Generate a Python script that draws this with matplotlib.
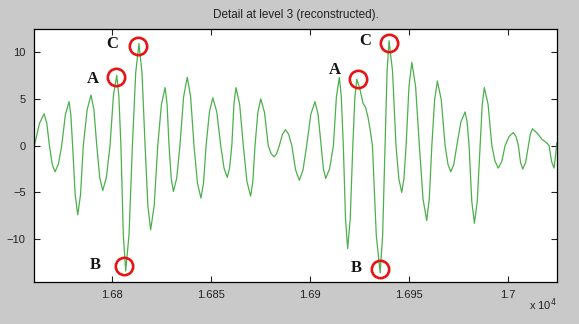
import matplotlib.pyplot as plt

# reconstructed detail signal, level 3
x = [16760.6, 16763.4, 16765.7, 16767.05, 16768.4, 16769.8, 16771.2, 16772.9,
     16774.6, 16776.45, 16778.3, 16779.2, 16780.1, 16781.4, 16782.7, 16784.1,
     16785.5, 16787.45, 16789.4, 16790.85, 16792.3, 16793.8, 16795.3, 16797.15,
     16799.0, 16800.7, 16802.4, 16803.45, 16804.5, 16805.7, 16806.9, 16808.6,
     16810.3, 16811.95, 16813.6, 16815.15, 16816.7, 16818.1, 16819.5, 16821.3,
     16823.1, 16824.95, 16826.8, 16827.8, 16828.8, 16829.9, 16831.0, 16832.65,
     16834.3, 16836.15, 16838.0, 16839.7, 16841.4, 16843.15, 16844.9, 16846.2,
     16847.5, 16849.2, 16850.9, 16852.9, 16854.9, 16856.55, 16858.2, 16859.35,
     16860.5, 16861.55, 16862.6, 16864.45, 16866.3, 16868.15, 16870.0, 16871.1,
     16872.2, 16873.65, 16875.1, 16877.0, 16878.9, 16880.35, 16881.8, 16883.15,
     16884.5, 16886.05, 16887.6, 16889.2, 16890.8, 16892.7, 16894.6, 16896.45,
     16898.3, 16900.4, 16902.5, 16904.05, 16905.6, 16906.75, 16907.9, 16909.85,
     16911.8, 16913.3, 16914.8, 16915.8, 16916.8, 16917.9, 16919.0, 16920.3,
     16921.6, 16922.6, 16923.6, 16925.2, 16926.8, 16928.0, 16929.3, 16930.4,
     16931.5, 16933.45, 16935.4, 16936.65, 16937.9, 16938.9, 16939.9, 16941.65,
     16943.4, 16944.85, 16946.3, 16947.4, 16948.5, 16949.95, 16951.4, 16953.3,
     16955.2, 16957.05, 16958.9, 16960.2, 16961.5, 16962.9, 16964.3, 16966.25,
     16968.2, 16969.65, 16971.1, 16972.6, 16974.1, 16976.2, 16978.3, 16979.3,
     16980.3, 16981.65, 16983.0, 16984.45, 16985.9, 16986.95, 16988.0, 16989.9,
     16991.8, 16993.45, 16995.1, 16996.8, 16998.5, 17000.6, 17002.7, 17003.95,
     17005.2, 17006.3, 17007.4, 17008.85, 17010.3, 17011.3, 17012.3, 17014.6,
     17017.0, 17019.5, 17020.7, 17021.95, 17023.2, 17023.9, 17024.6]
y = [-0.2, 2.4, 3.4, 2.4, 0.0, -2.0, -2.8, -2.0,
     0.0, 3.3, 4.7, 3.3, 0.0, -5.25, -7.4, -5.25,
     0.0, 3.85, 5.4, 3.85, 0.0, -3.4, -4.8, -3.4,
     0.0, 5.3, 7.5, 5.3, 0.0, -9.5, -13.4, -9.5,
     0.0, 7.75, 10.9, 7.75, 0.0, -6.4, -9.0, -6.4,
     0.0, 4.4, 6.2, 4.4, 0.0, -3.5, -4.9, -3.5,
     0.0, 5.2, 7.3, 5.2, 0.0, -4.0, -5.6, -4.0,
     0.0, 3.6, 5.1, 3.6, 0.0, -2.4, -3.4, -2.4,
     0.0, 4.4, 6.2, 4.4, 0.0, -3.85, -5.4, -3.85,
     0.0, 3.55, 5.0, 3.55, 0.0, -0.85, -1.2, -0.85,
     0.0, 1.2, 1.7, 1.2, 0.0, -2.6, -3.7, -2.6,
     0.0, 3.35, 4.7, 3.35, 0.0, -2.5, -3.5, -2.5,
     0.0, 5.2, 7.3, 5.2, 0.0, -7.8, -11.0, -7.8,
     0.0, 5.0, 7.1, 6.0, 4.5, 4.1, 3.0, 1.6,
     0.0, -9.6, -13.6, -9.6, 0.0, 7.95, 11.2, 7.95,
     0.0, -3.55, -5.0, -3.55, 0.0, 6.3, 8.9, 6.3,
     0.0, -5.7, -8.0, -5.7, 0.0, 4.9, 6.9, 4.9,
     0.0, -2.0, -2.8, -2.0, 0.0, 2.55, 3.6, 2.55,
     0.0, -5.9, -8.3, -5.9, 0.0, 4.4, 6.2, 4.4,
     0.0, -1.7, -2.4, -1.7, 0.0, 1.0, 1.4, 1.0,
     0.0, -1.8, -2.5, -1.8, 0.0, 1.3, 1.8, 1.35,
     0.7, 0.3, 0.0, -1.7, -2.4, -1.2, 0.3]

# points of interest
mark_x = [16801.9, 16806.2, 16813.3, 16924.2, 16935.2, 16939.9]
mark_y = [7.3, -12.9, 10.6, 7.15, -13.2, 10.95]
label_text = ['A', 'B', 'C', 'A', 'B', 'C']
label_x = [16790.3, 16791.4, 16800.0, 16912.5, 16923.1, 16927.8]
label_y = [7.15, -12.8, 10.85, 8.1, -13.1, 11.2]

xticks = [16800, 16850, 16900, 16950, 17000]
xtick_labels = ['1.68', '1.685', '1.69', '1.695', '1.7']
yticks = [-10, -5, 0, 5, 10]

plt.rcParams['font.family'] = ['Liberation Sans', 'DejaVu Sans']

fig = plt.figure(figsize=(5.79, 3.24), dpi=100, facecolor='#c9c9c9')
ax = fig.add_axes([0.0587, 0.1296, 0.9033, 0.781])

ax.plot(x, y, color='#4cb04c', lw=0.9)
ax.plot(mark_x, mark_y, 'o', ms=12.5, mfc='none', mec='#e81414', mew=1.9)
for t, lx, ly in zip(label_text, label_x, label_y):
    ax.text(lx, ly, t, family='Liberation Serif', fontweight='bold',
            fontsize=12, ha='center', va='center', color='#141414')

ax.set_xlim(16760.6, 17024.7)
ax.set_ylim(-14.57, 12.46)
ax.set_xticks(xticks)
ax.set_xticklabels(xtick_labels)
ax.set_yticks(yticks)
ax.tick_params(direction='in', length=4, width=0.8, top=True, right=True,
               labelsize=8, pad=6, colors='#222222')
for s in ax.spines.values():
    s.set_linewidth(0.9)

ax.set_title('Detail at level 3 (reconstructed).', fontsize=8.5, pad=8,
             color='#222222')
fig.text(0.962, 0.035, r'x 10$^4$', fontsize=8, ha='right', va='bottom',
         color='#222222')

fig.savefig('out.png', dpi=100, facecolor=fig.get_facecolor())
